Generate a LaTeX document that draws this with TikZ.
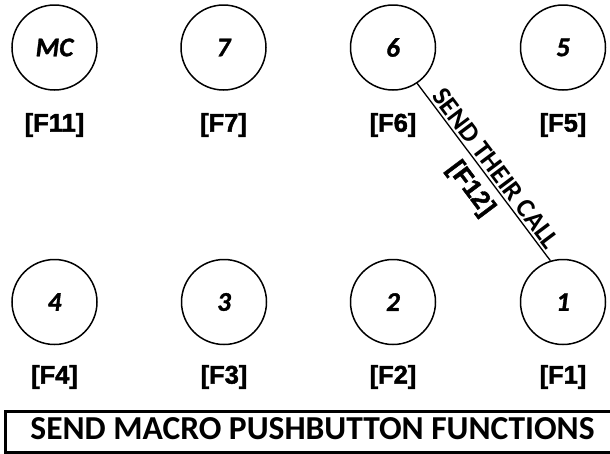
\documentclass[tikz,border=0pt]{standalone}
\usepackage{fontspec}
\setmainfont{Carlito}
\newfontfamily\btnfont{Carlito}[BoldItalicFeatures={FakeBold=1.2}]
\newfontfamily\labfont{Liberation Sans}[BoldFeatures={FakeBold=1.8}]
\begin{document}
\begin{tikzpicture}[x=1pt,y=-1pt,
  btn/.style={circle, draw, line width=1.5pt, minimum size=85pt, inner sep=0pt,
    font=\btnfont\fontsize{27}{30}\selectfont\bfseries\itshape},
  flab/.style={inner sep=0pt, font=\labfont\fontsize{25.5}{30}\selectfont\bfseries},
  conn/.style={line width=1.3pt},
  conntext/.style={inner sep=0pt, font=\fontsize{27}{30}\selectfont\bfseries}]
\clip (0,0) rectangle (610,453);
\useasboundingbox (0,0) rectangle (610,453);
% buttons
\node[btn] (bMC) at (54.5,47.5) {MC};
\node[btn] (b7) at (223.5,47.5) {7};
\node[btn] (b6) at (393,47.5) {6};
\node[btn] (b5) at (563,47.5) {5};
\node[btn] (b4) at (54.5,302) {4};
\node[btn] (b3) at (224,302) {3};
\node[btn] (b2) at (393,302) {2};
\node[btn] (b1) at (563,302) {1};
% labels
\node[flab] (lF11) at (54.5,125) {[F11]};
\node[flab] (lF7) at (223.5,125) {[F7]};
\node[flab] (lF6) at (393,125) {[F6]};
\node[flab] (lF5) at (563,125) {[F5]};
\node[flab] (lF4) at (54.5,377) {[F4]};
\node[flab] (lF3) at (224,377) {[F3]};
\node[flab] (lF2) at (393,377) {[F2]};
\node[flab] (lF1) at (563,377) {[F1]};
% connector
\draw[conn] (b6.-56) -- (b1.107)
  node[conntext, sloped, pos=0.52, anchor=south, outer sep=3pt] (sendcall) {SEND THEIR CALL}
  node[flab, sloped, pos=0.525, anchor=north, outer sep=9pt] (lF12) {[F12]};
% title box
\draw[line width=3pt] (5,411.5) rectangle (616,452.5);
\node[inner sep=0pt, font=\fontsize{33.5}{36}\selectfont\bfseries] (title) at (312.5,429) {SEND MACRO PUSHBUTTON FUNCTIONS};
\end{tikzpicture}
\end{document}
